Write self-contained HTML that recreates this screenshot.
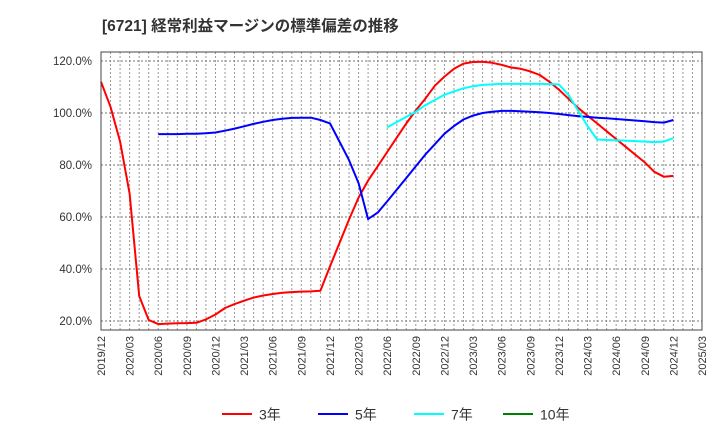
<!DOCTYPE html>
<html><head><meta charset="utf-8"><style>
body{margin:0;background:#fff;}
svg{display:block;font-family:"Liberation Sans","Noto Sans CJK JP",sans-serif;}
</style></head><body>
<svg id="chart" width="720" height="440" viewBox="0 0 720 440" xmlns="http://www.w3.org/2000/svg">
<text x="102" y="31" font-size="15.5" font-weight="bold" fill="#333">[6721]  経常利益マージンの標準偏差の推移</text>
<g id="grid"></g><g id="axes"></g><g id="series"></g>
<rect x="101" y="52" width="601" height="278" fill="none" stroke="#444" stroke-width="1"/>
<g id="legend"></g>
</svg>
<script>
// Data: monthly index from 2019/12 (index 0)
const xTickLabels = ["2019/12","2020/03","2020/06","2020/09","2020/12","2021/03","2021/06","2021/09","2021/12","2022/03","2022/06","2022/09","2022/12","2023/03","2023/06","2023/09","2023/12","2024/03","2024/06","2024/09","2024/12","2025/03"];
const yTicks = [20,40,60,80,100,120];
const s3 = [112,102.4,89,69,29.6,20.4,18.8,19,19.1,19.2,19.3,20.6,22.5,25,26.5,27.8,29,29.8,30.4,30.9,31.1,31.3,31.4,31.6,41,50,59,67.5,74,79.5,85,90.5,96,101,105.5,110.5,114,117,119,119.6,119.7,119.3,118.5,117.5,117,116,114.6,112,109,105.5,102,99,96,93,90,87,84,81,77.4,75.5,75.8];
const s5 = [null,null,null,null,null,null,91.9,91.9,91.9,92,92,92.2,92.5,93.2,94,94.9,95.8,96.6,97.3,97.8,98.1,98.2,98.2,97.3,96,89,81.9,73,59.2,61.7,66,70.5,75,79.5,84,88,92,95,97.5,99,100,100.5,100.8,100.8,100.7,100.5,100.3,100,99.6,99.2,98.8,98.5,98.2,98,97.7,97.4,97.1,96.8,96.5,96.3,97.3];
const s7 = [null,null,null,null,null,null,null,null,null,null,null,null,null,null,null,null,null,null,null,null,null,null,null,null,null,null,null,null,null,null,94.5,96.5,98.5,100.5,103,105,107,108.3,109.5,110.3,110.8,111,111.2,111.2,111.2,111.2,111.2,111.1,111,107,101,95,89.8,89.6,89.5,89.4,89.2,89,88.8,89,90.3];
const s10 = [];
const seriesNames = ["3年","5年","7年","10年"];
const seriesColors = ["#ff0000","#0000ff","#00ffff","#008000"];

const NS="http://www.w3.org/2000/svg";
const X0=101,X1=702,Y0=330,Y1=52,NM=63;
function xs(m){return X0+m*(X1-X0)/NM;}
function ys(v){return 321-(v-20)*2.6;}
function mk(tag,attrs,parent){const e=document.createElementNS(NS,tag);for(const k in attrs)e.setAttribute(k,attrs[k]);parent.appendChild(e);return e;}
const grid=document.getElementById('grid'),axes=document.getElementById('axes'),ser=document.getElementById('series'),leg=document.getElementById('legend');
for(let m=1;m<NM;m++){
  const l=mk('line',{x1:xs(m),x2:xs(m),y1:Y1,y2:Y0,stroke:'#999','stroke-width':1,'stroke-dasharray':'2,2'},grid);
  
  
}
yTicks.forEach(v=>{
  const l=mk('line',{x1:X0,x2:X1,y1:ys(v),y2:ys(v),stroke:'#777','stroke-width':1,'stroke-dasharray':'2,2'},grid);
  
  
  const t=mk('text',{x:92,y:ys(v)+4,'font-size':11.5,'text-anchor':'end',fill:'#333'},axes);
  t.textContent=v.toFixed(1)+'%';
  
  
});
xTickLabels.forEach((lab,i)=>{
  const x=xs(i*3);
  const t=mk('text',{x:0,y:0,'font-size':11,'text-anchor':'end',fill:'#333',transform:`translate(${x+4},336) rotate(-90)`},axes);
  t.textContent=lab;
  
  
});
[s3,s5,s7,s10].forEach((arr,si)=>{
  let d='';let pen=false;
  arr.forEach((v,m)=>{if(v==null){pen=false;return;}d+=(pen?'L':'M')+xs(m).toFixed(1)+','+ys(v).toFixed(1);pen=true;});
  if(!d)return;
  const p=mk('path',{d:d,fill:'none',stroke:seriesColors[si],'stroke-width':2,'stroke-linejoin':'round'},ser);
  
  
});
const legX=[222,318,414,503];
seriesNames.forEach((n,i)=>{
  const g=mk('g',{},leg);
  
  
  mk('line',{x1:legX[i],x2:legX[i]+30,y1:414,y2:414,stroke:seriesColors[i],'stroke-width':2},g);
  const t=mk('text',{x:legX[i]+37,y:419.5,'font-size':14,fill:'#333'},g);
  t.textContent=n;
});
</script>
</body></html>
